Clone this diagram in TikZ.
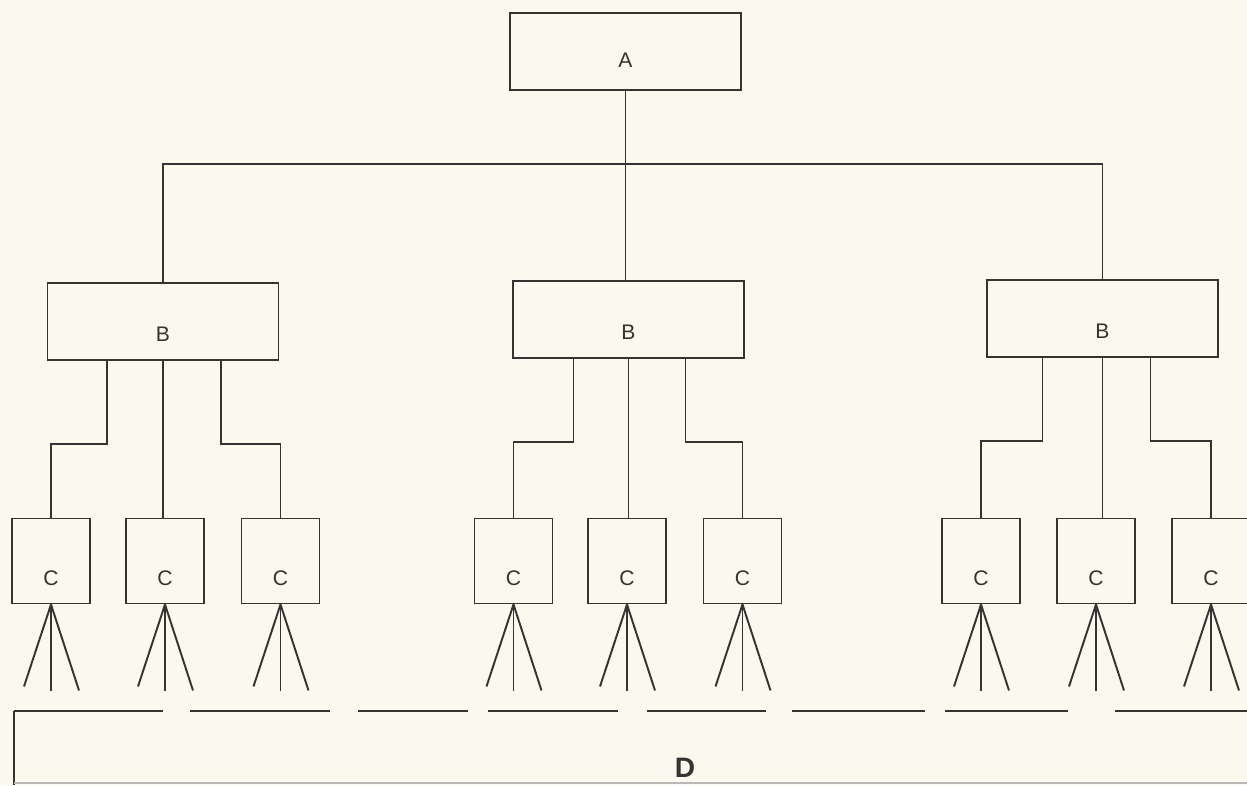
\documentclass[tikz,border=0pt]{standalone}
\usepackage{fontspec}
\setmainfont{Liberation Sans}
\definecolor{ink}{RGB}{52,52,50}
\definecolor{paper}{RGB}{251,249,238}
\begin{document}
\begin{tikzpicture}[x=0.02cm, y=-0.02cm, line width=1.1pt, color=ink,
    bigbox/.style={draw, minimum width=4.62cm, minimum height=1.54cm, inner sep=0},
    smallbox/.style={draw, minimum width=1.56cm, minimum height=1.7cm, inner sep=0},
    boxtext/.style={font=\fontsize{12}{14}\selectfont, inner sep=0}]

    % Page
    \fill[paper] (0,0) rectangle (1247,785);
    \useasboundingbox (0,0) rectangle (1247,785);
    \clip (0,0) rectangle (1247,785);

    % Top
    \node[bigbox, label={[boxtext, yshift=-0.17cm]center:A}] (a) at (625.5, 51.5) {};

    % Middle row
    \node[bigbox, label={[boxtext, yshift=-0.26cm]center:B}] (b1) at (163, 321.5) {};
    \node[bigbox, label={[boxtext, yshift=-0.26cm]center:B}] (b2) at (628.5, 319.5) {};
    \node[bigbox, label={[boxtext, yshift=-0.26cm]center:B}] (b3) at (1102.5, 318.5) {};

    % Bottom row
    \foreach \name/\x in {c11/51, c12/165, c13/280.5,
                          c21/513.5, c22/627, c23/742.5,
                          c31/981, c32/1096, c33/1211}
        \node[smallbox, label={[boxtext, yshift=-0.34cm]center:C}] (\name) at (\x, 561) {};

    % A to B
    \draw (a.south) -- (a.south |- b2.north);
    \draw (b1.north) -- ++(0,-118) -| (b3.north);

    % B to C
    \foreach \g/\l/\r in {1/-56/58, 2/-55/57, 3/-60/48} {
        \draw (b\g.south) ++(\l,0) -- ++(0,83) -| (c\g1.north);
        \draw (b\g.south) -- (b\g.south |- c\g2.north);
        \draw (b\g.south) ++(\r,0) -- ++(0,83) -| (c\g3.north);
    }

    % Legs
    \foreach \c in {c11, c12, c13, c21, c22, c23, c31, c32, c33} {
        \draw (\c.south) -- ++(-27,82);
        \draw (\c.south) -- ++(0,87);
        \draw (\c.south) -- ++(28,86);
    }

    % D
    \foreach \s/\e in {14/163, 190/330, 358/468, 488/618,
                       647/766, 792/925, 945/1068, 1115/1247}
        \draw (\s,711) -- (\e,711);
    \coordinate (dcorner) at (14,711);
    \draw (dcorner) -- (dcorner |- 0,785);
    \draw[ink!35, line width=0.7pt] (14,783) -- (1247,783);
    \node[font=\bfseries\fontsize{16}{19}\selectfont, inner sep=0] (d) at (685,768) {D};

\end{tikzpicture}
\end{document}
